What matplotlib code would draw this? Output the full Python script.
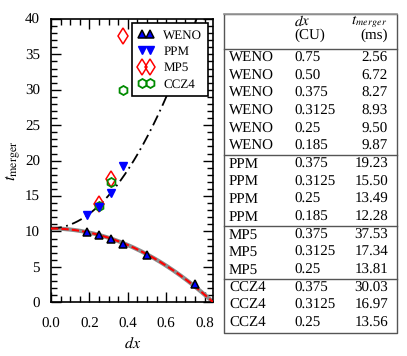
import numpy as np
import matplotlib
matplotlib.use('Agg')
import matplotlib.pyplot as plt
from matplotlib.ticker import MultipleLocator

plt.rcParams['font.family'] = ['Liberation Serif', 'DejaVu Serif']
plt.rcParams['mathtext.fontset'] = 'stix'
plt.rcParams['font.size'] = 10
plt.rcParams['text.hinting'] = 'no_hinting'
plt.rcParams['text.hinting_factor'] = 1

# data (dx in code units, t_merger in ms)
weno_dx = [0.75, 0.50, 0.375, 0.3125, 0.25, 0.185]
weno_t = [2.56, 6.72, 8.27, 8.93, 9.50, 9.87]
ppm_dx = [0.375, 0.3125, 0.25, 0.185]
ppm_t = [19.23, 15.50, 13.49, 12.28]
mp5_dx = [0.375, 0.3125, 0.25]
mp5_t = [37.53, 17.34, 13.81]
ccz4_dx = [0.375, 0.3125, 0.25]
ccz4_t = [30.03, 16.97, 13.56]

# fit curves t = t0 +/- c*dx^2
low_t0, low_c = 10.42, 14.6
up_t0, up_c = 10.45, 51.5

fig = plt.figure(figsize=(4.07, 3.56), dpi=100)
ax = fig.add_axes([51/407, 1-302.3/356, 162.3/407, 283.3/356])

xf = np.linspace(0, 0.86, 300)
ax.plot(xf, low_t0 - low_c*xf**2, color='#8c8c8c', lw=3, zorder=2)
ax.plot(xf, low_t0 - low_c*xf**2, color='red', lw=1.5, dashes=(3.5, 1.5), zorder=3)
ax.plot(xf, up_t0 + up_c*xf**2, color='black', lw=1.3, dashes=(6, 2.5, 1, 2.5), zorder=2)

ax.plot(weno_dx, weno_t, '^', ms=5.5, mfc='blue', mec='black', mew=1.1, label='WENO', zorder=6)
ax.plot(ppm_dx, ppm_t, 'v', ms=5.5, mfc='blue', mec='blue', mew=1, label='PPM', zorder=6)
ax.plot(mp5_dx, mp5_t, 'd', ms=8, mfc='none', mec='red', mew=1.1, label='MP5', zorder=4)
ax.plot(ccz4_dx, ccz4_t, 'h', ms=6.5, mfc='none', mec='#008b00', mew=1.3, label='CCZ4', zorder=5)

ax.set_xlim(0, 0.845)
ax.set_ylim(0, 40)
ax.xaxis.set_major_locator(MultipleLocator(0.2))
ax.xaxis.set_minor_locator(MultipleLocator(0.05))
ax.yaxis.set_major_locator(MultipleLocator(5))
ax.yaxis.set_minor_locator(MultipleLocator(1))
ax.xaxis.set_major_formatter(matplotlib.ticker.FormatStrFormatter('%.1f'))
ax.tick_params(which='both', direction='in', top=True, right=True, width=1)
ax.tick_params(which='major', length=7.5)
ax.tick_params(which='minor', length=4)
ax.tick_params(axis='x', which='major', pad=11, labelsize=10.5)
ax.tick_params(axis='y', which='major', pad=8, labelsize=10.5)
for s in ax.spines.values():
    s.set_linewidth(1.2)
ax.set_xlabel('$dx$', fontsize=11.5, labelpad=4)
ax.set_ylabel(r'$t_{\rm merger}$', fontsize=12.5, labelpad=2)

leg = ax.legend(loc='upper right', bbox_to_anchor=(0.969, 0.985), borderaxespad=0,
                numpoints=2, handlelength=1.2, handletextpad=0.7, borderpad=0.45,
                labelspacing=0.33, fancybox=False, framealpha=1, edgecolor='black',
                fontsize=9.5)
leg.get_frame().set_linewidth(1.2)

# table on the right, drawn in pixel coordinates
tab = fig.add_axes([0, 0, 1, 1], zorder=-1)
tab.set_xlim(0, 407)
tab.set_ylim(356, 0)
tab.axis('off')

groups = [('WENO', weno_dx, weno_t), ('PPM', ppm_dx, ppm_t),
          ('MP5', mp5_dx, mp5_t), ('CCZ4', ccz4_dx, ccz4_t)]
x0, x1, y0, y1 = 224, 397, 14, 333
row0, rowh = 58.3, 17.65
fs = 10.5
tab.plot([x0, x1, x1, x0, x0], [y0, y0, y1, y1, y0], color='#555555', lw=1)
tab.plot([x0, x1], [y0, y0], color='#999999', lw=1.2)
tab.text(294, 21.5, '$dx$', ha='left', va='center', fontsize=fs)
tab.text(294, 35, '(CU)', ha='left', va='center', fontsize=fs)
tab.text(388, 21.5, r'$t_{merger}$', ha='right', va='center', fontsize=fs)
tab.text(388, 35, '(ms)', ha='right', va='center', fontsize=fs)
tab.plot([x0, x1], [row0 - rowh/2, row0 - rowh/2], color='#555555', lw=1)
i = 0
for gi, (name, dxs, ts) in enumerate(groups):
    if gi > 0:
        yl = row0 + rowh*(i - 0.5)
        tab.plot([x0, x1], [yl, yl], color='#555555', lw=1)
    for d, t in zip(dxs, ts):
        y = row0 + rowh*i
        dtxt = '%.2f' % d if d == 0.5 else '%g' % d
        tab.text(229, y, name, ha='left', va='center', fontsize=fs)
        tab.text(294, y, dtxt, ha='left', va='center', fontsize=fs)
        tab.text(388, y, '%.2f' % t, ha='right', va='center', fontsize=fs)
        i += 1

fig.savefig('out.png', dpi=100)
